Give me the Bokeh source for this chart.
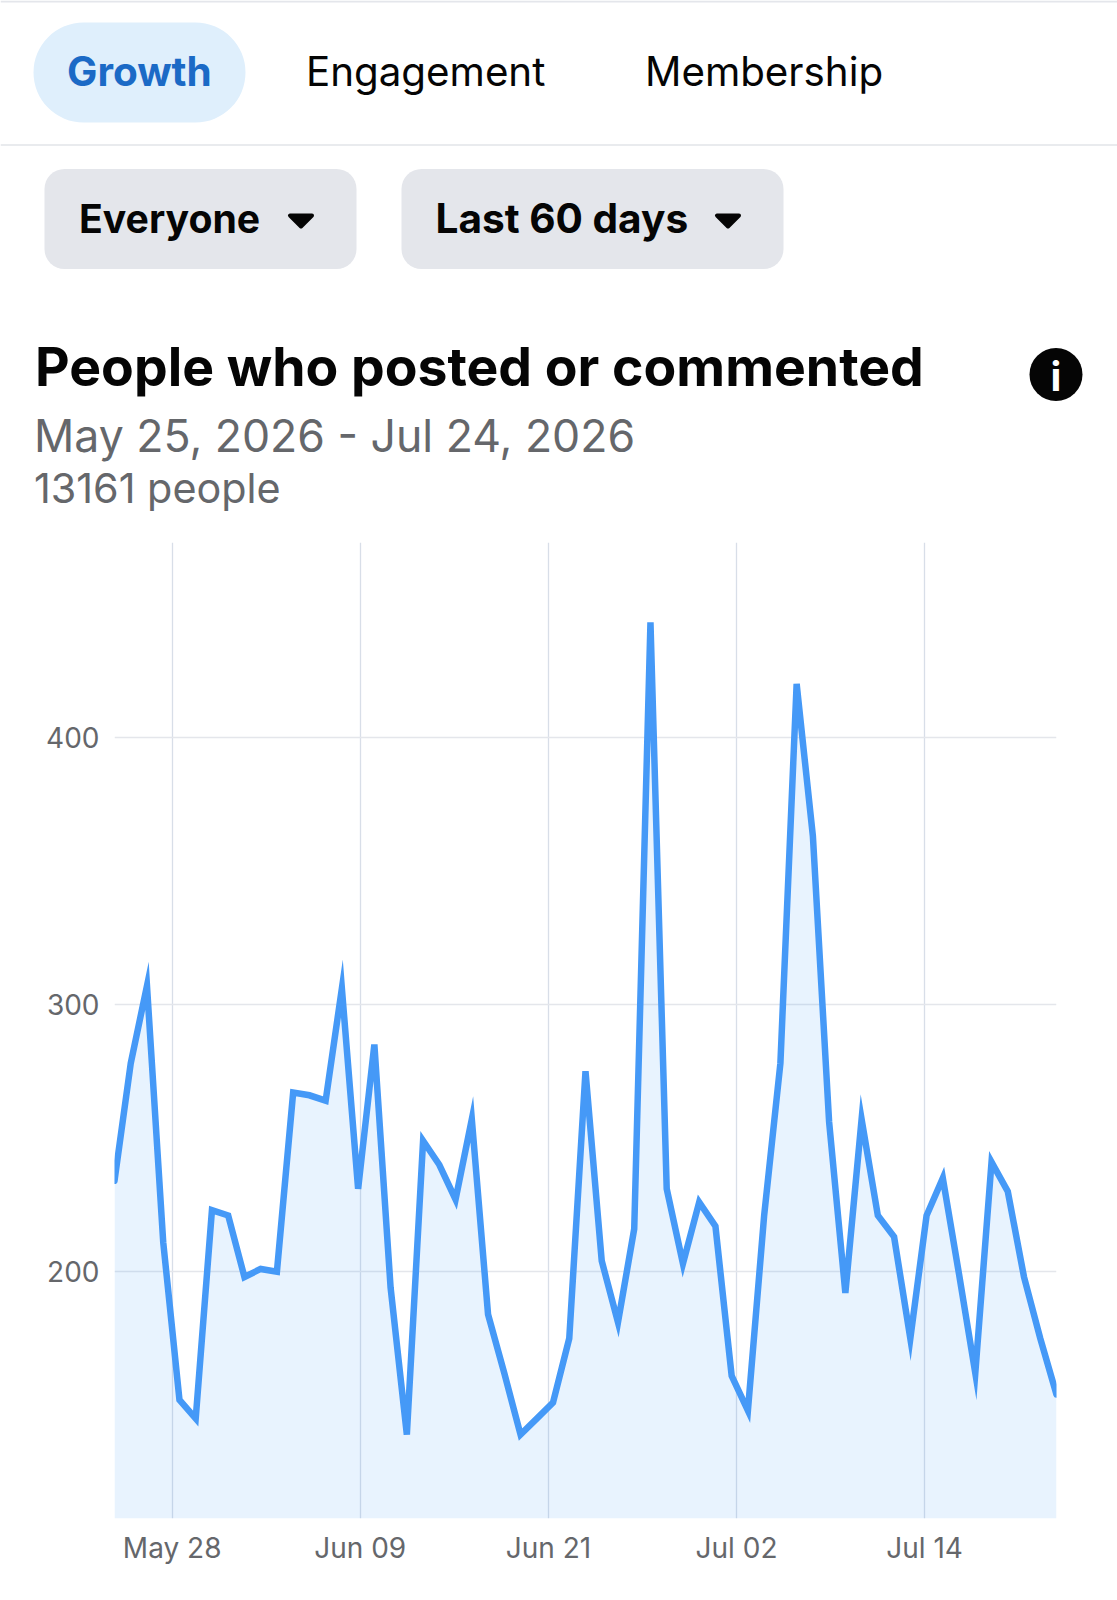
from bokeh.plotting import figure
from bokeh.models import FixedTicker, Range1d
from bokeh.core.properties import value
from bokeh.embed import file_html
from bokeh.resources import INLINE

# ---- data ----
people = [234, 278, 307, 211, 152, 145, 223, 221, 198, 201, 200, 267, 266, 264, 306,
          231, 285, 194, 139, 249, 240, 227, 257, 184, 162, 139, 145, 151, 175, 275,
          204, 181, 216, 443, 231, 203, 226, 217, 161, 148, 221, 278, 420, 363, 256,
          192, 257, 221, 213, 175, 221, 235, 199, 162, 241, 230, 198, 175, 154]
day_index = list(range(len(people)))
x_ticks = [3.55, 15.13, 26.72, 38.3, 49.88]
x_labels = ["May 28", "Jun 09", "Jun 21", "Jul 02", "Jul 14"]
y_ticks = [200, 300, 400]
tabs = ["Growth", "Engagement", "Membership"]
filters = ["Everyone", "Last 60 days"]
title = "People who posted or commented"
date_range = "May 25, 2026 - Jul 24, 2026"
total = "13161 people"

FONT = "Inter"
PAGE_W, PAGE_H = 1117, 1600
HEAD_H = 530

# ---- header (page pixels) ----
h = figure(width=PAGE_W, height=HEAD_H, output_backend="svg", toolbar_location=None,
           x_range=Range1d(0, PAGE_W), y_range=Range1d(HEAD_H, 0),
           min_border=0, outline_line_color=None, x_axis_location=None, y_axis_location=None)
h.grid.visible = False


def t(x, y, s, size, color, bold=False, align="left"):
    h.text([x], [y], text=[s], text_font=value(FONT), text_font_size=f"{size}px", text_color=color,
           text_font_style="bold" if bold else "normal", text_baseline="middle", text_align=align)


h.quad(left=[0], right=[PAGE_W], top=[0], bottom=[2], fill_color="#E4E6EB", line_color=None)
h.quad(left=[0], right=[PAGE_W], top=[143.5], bottom=[145.5], fill_color="#E9EBEE", line_color=None)
h.quad(left=[33], right=[245], top=[22], bottom=[122], fill_color="#DFEFFC", line_color=None, border_radius=50)
for l, r in [(44, 356), (401, 783)]:
    h.quad(left=[l], right=[r], top=[168.5], bottom=[268.5], fill_color="#E4E6EB", line_color=None, border_radius=20)

t(66.5, 71, tabs[0], 40.5, "#1B6AC6", True)
t(305.5, 71, tabs[1], 40.3, "#050505")
t(644.5, 71, tabs[2], 40.3, "#050505")
t(78.5, 217.5, filters[0], 39.2, "#050505", True)
t(435, 217.5, filters[1], 40.6, "#050505", True)
for cx in (300.5, 727.5):
    h.patch([cx - 11, cx + 11, cx], [215, 215, 226], fill_color="#050505", line_color="#050505",
            line_width=4, line_join="round")
t(34.5, 366, title, 53.5, "#050505", True)
t(33.5, 435, date_range, 44.6, "#65676B")
t(33.5, 487, total, 41.3, "#65676B")
h.circle([1055.5], [374], radius=26.5, fill_color="#050505", line_color=None)
t(1055.5, 376, "i", 40, "#FFFFFF", True, "center")

# ---- chart ----
y_start, y_end = 107.6, 472.9
p = figure(width=PAGE_W, height=PAGE_H - HEAD_H, output_backend="svg", toolbar_location=None,
           x_range=Range1d(0, day_index[-1]), y_range=Range1d(y_start, y_end),
           min_border_left=114, min_border_right=61, min_border_top=12, min_border_bottom=82,
           outline_line_color=None)
p.varea(x=day_index, y1=[y_start] * len(people), y2=people, fill_color="#1A8CF5", fill_alpha=0.1)
p.line(x=day_index, y=people, line_color="#4599F7", line_width=6.5, line_join="miter", line_cap="round")

p.xaxis.ticker = FixedTicker(ticks=x_ticks)
p.xaxis.major_label_overrides = dict(zip(x_ticks, x_labels))
p.yaxis.ticker = FixedTicker(ticks=y_ticks)
for ax in (p.xaxis, p.yaxis):
    ax.axis_line_color = None
    ax.major_tick_line_color = None
    ax.minor_tick_line_color = None
    ax.major_label_text_font = FONT
    ax.major_label_text_font_size = "28px"
    ax.major_label_text_color = "#65676B"
p.xaxis.major_label_standoff = 6
p.yaxis.major_label_standoff = 9
p.xgrid.ticker = FixedTicker(ticks=x_ticks)
p.ygrid.ticker = FixedTicker(ticks=y_ticks)
p.xgrid.grid_line_color = "#D8DEE8"
p.ygrid.grid_line_color = "#E4E6EB"
p.xgrid.grid_line_width = 1.3
p.ygrid.grid_line_width = 1.3

open("out.html", "w").write(file_html((h, p), INLINE))
